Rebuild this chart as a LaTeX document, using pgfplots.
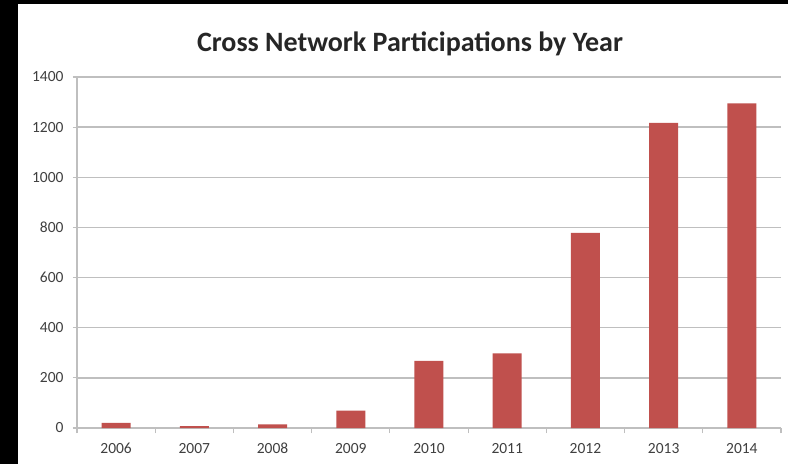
\documentclass[border=0pt]{standalone}
\usepackage{fontspec}
\setmainfont{Carlito}
\usepackage{pgfplots}
\pgfplotsset{compat=1.18}
\definecolor{barred}{HTML}{C0504D}
\definecolor{gridgray}{HTML}{BFBFBF}
\definecolor{ticktext}{HTML}{404040}
\begin{document}
\begin{tikzpicture}[x=1pt,y=1pt]
\fill[black] (0,0) rectangle (788,464);
\fill[white] (18,0) rectangle (788,459.5);
\node[font=\bfseries\fontsize{28}{30}\selectfont, text=black!85, anchor=center] at (410,420) {Cross Network Participations by Year};
\begin{axis}[
  at={(77pt,36pt)}, anchor=south west,
  scale only axis, width=704pt, height=351pt,
  xmin=-0.5, xmax=8.5, ymin=0, ymax=1400,
  axis x line*=bottom, axis y line*=left,
  axis line style={gridgray, line width=1.2pt},
  ytick={0,200,...,1400},
  ymajorgrids, grid style={gridgray, line width=1.3pt},
  xtick={0,...,8},
  xticklabels={2006,2007,2008,2009,2010,2011,2012,2013,2014},
  major x tick style={draw=none},
  minor xtick={-0.5,0.5,...,8.5},
  tick align=outside,
  major tick length=4pt, minor tick length=5pt,
  tick style={gridgray, line width=1.2pt},
  /pgf/number format/assume math mode=true,
  /pgf/number format/1000 sep={},
  ticklabel style={font=\fontsize{15.5}{17}\selectfont, text=ticktext},
  yticklabel style={xshift=-6pt},
  xticklabel style={anchor=base, yshift=-21pt, text depth=0pt},
  ybar, bar width=29pt,
]
\addplot[fill=barred, draw=none] coordinates {
(0,20) (1,7) (2,14) (3,69) (4,268) (5,298) (6,778) (7,1217) (8,1295)};
\end{axis}
\end{tikzpicture}
\end{document}
